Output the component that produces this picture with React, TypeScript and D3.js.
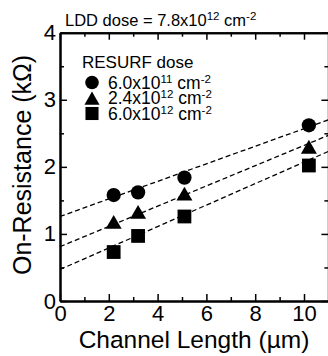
import React, { useEffect, useRef } from 'react';
import * as d3 from 'd3';

// channel length (um) and on-resistance (kOhm) per RESURF dose
const channelLength = [2.2, 3.2, 5.1, 10.2];
const ronLowDose = [1.58, 1.62, 1.84, 2.62];
const ronMidDose = [1.18, 1.33, 1.6, 2.3];
const ronHighDose = [0.73, 0.97, 1.26, 2.02];

// dashed fit lines: value at L = 0 and at L = 11
const fitAtZero = [1.26, 0.81, 0.47];
const fitAtEleven = [2.7, 2.47, 2.23];

const doseMantissa = ['6.0x10', '2.4x10', '6.0x10'];
const doseExponent = ['11', '12', '12'];

const xMajorTicks = [0, 2, 4, 6, 8, 10];
const xMinorTicks = [1, 3, 5, 7, 9, 11];
const yMajorTicks = [0, 1, 2, 3, 4];
const yMinorTicks = [0.5, 1.5, 2.5, 3.5];

const FONT = 'Liberation Sans, Arial, Helvetica, sans-serif';

function App() {
    const svgRef = useRef(null);

    useEffect(() => {
        document.body.style.margin = '0';
        const width = 328;
        const height = 356;

        const svg = d3.select(svgRef.current)
            .attr('width', width)
            .attr('height', height)
            .style('font-family', FONT);
        svg.selectAll('*').remove();

        const x = d3.scaleLinear().domain([0, 11]).range([60, 328.4]);
        const y = d3.scaleLinear().domain([0, 4]).range([301, 32.7]);
        const fmt = d3.format('d');

        // axes: major ticks inward 7px, minor 4px
        const styleAxis = (g, showText) => {
            g.select('.domain').attr('stroke', '#000').attr('stroke-width', 2);
            g.selectAll('.tick line').attr('stroke', '#000').attr('stroke-width', 1.5);
            g.selectAll('.tick text')
                .attr('fill', '#000')
                .style('font-family', FONT)
                .style('font-size', '22px')
                .style('display', showText ? null : 'none');
        };

        svg.append('g')
            .attr('transform', `translate(0,${y(0)})`)
            .call(d3.axisBottom(x).tickValues(xMinorTicks).tickSize(-4).tickSizeOuter(0).tickFormat(() => ''))
            .call(g => styleAxis(g, false));
        svg.append('g')
            .attr('transform', `translate(0,${y(0)})`)
            .call(d3.axisBottom(x).tickValues(xMajorTicks).tickSize(-7).tickSizeOuter(0).tickPadding(4).tickFormat(fmt))
            .call(g => styleAxis(g, true));

        svg.append('g')
            .attr('transform', `translate(0,${y(4)})`)
            .call(d3.axisTop(x).tickValues(xMinorTicks).tickSize(-4).tickSizeOuter(0).tickFormat(() => ''))
            .call(g => styleAxis(g, false));
        svg.append('g')
            .attr('transform', `translate(0,${y(4)})`)
            .call(d3.axisTop(x).tickValues(xMajorTicks).tickSize(-7).tickSizeOuter(0).tickFormat(() => ''))
            .call(g => styleAxis(g, false));

        svg.append('g')
            .attr('transform', `translate(${x(0)},0)`)
            .call(d3.axisLeft(y).tickValues(yMinorTicks).tickSize(-4).tickSizeOuter(0).tickFormat(() => ''))
            .call(g => styleAxis(g, false));
        svg.append('g')
            .attr('transform', `translate(${x(0)},0)`)
            .call(d3.axisLeft(y).tickValues(yMajorTicks).tickSize(-7).tickSizeOuter(0).tickPadding(4).tickFormat(fmt))
            .call(g => styleAxis(g, true));

        svg.append('g')
            .attr('transform', `translate(${x(11)},0)`)
            .call(d3.axisRight(y).tickValues(yMinorTicks).tickSize(-4).tickSizeOuter(0).tickFormat(() => ''))
            .call(g => styleAxis(g, false));
        svg.append('g')
            .attr('transform', `translate(${x(11)},0)`)
            .call(d3.axisRight(y).tickValues(yMajorTicks).tickSize(-7).tickSizeOuter(0).tickFormat(() => ''))
            .call(g => styleAxis(g, false));

        // dashed fit lines
        const line = d3.line().x(d => x(d[0])).y(d => y(d[1]));
        fitAtZero.forEach((v, i) => {
            svg.append('path')
                .attr('d', line([[0, v], [11, fitAtEleven[i]]]))
                .attr('fill', 'none')
                .attr('stroke', '#000')
                .attr('stroke-width', 1.3)
                .attr('stroke-dasharray', '5,3');
        });

        // markers
        const series = [
            { values: ronLowDose, type: d3.symbolCircle, size: 160, dy: 0 },
            { values: ronMidDose, type: d3.symbolTriangle, size: 110, dy: 2.3 },
            { values: ronHighDose, type: d3.symbolSquare, size: 190, dy: 0 },
        ];
        series.forEach(s => {
            svg.append('g')
                .selectAll('path')
                .data(s.values)
                .enter()
                .append('path')
                .attr('d', d3.symbol().type(s.type).size(s.size)())
                .attr('transform', (d, i) => `translate(${x(channelLength[i])},${y(d) + s.dy})`)
                .attr('fill', '#000');
        });

        // legend
        svg.append('text')
            .attr('x', 82)
            .attr('y', 68)
            .style('font-size', '17px')
            .text('RESURF dose');
        series.forEach((s, i) => {
            const cy = 82.5 + i * 15.5;
            svg.append('path')
                .attr('d', d3.symbol().type(s.type).size(s.size * 0.9)())
                .attr('transform', `translate(92,${cy + s.dy})`)
                .attr('fill', '#000');
            const t = svg.append('text')
                .attr('x', 108)
                .attr('y', cy + 6)
                .style('font-size', '17.5px');
            t.append('tspan').text(doseMantissa[i]);
            t.append('tspan').attr('dy', -6).style('font-size', '11.5px').text(doseExponent[i]);
            t.append('tspan').attr('dy', 6).text(' cm');
            t.append('tspan').attr('dy', -6).style('font-size', '11.5px').text('-2');
        });

        // header
        const title = svg.append('text')
            .attr('x', 65)
            .attr('y', 26)
            .style('font-size', '16.5px');
        title.append('tspan').text('LDD dose = 7.8x10');
        title.append('tspan').attr('dy', -6).style('font-size', '11.5px').text('12');
        title.append('tspan').attr('dy', 6).text(' cm');
        title.append('tspan').attr('dy', -6).style('font-size', '11.5px').text('-2');

        // axis titles
        svg.append('text')
            .attr('x', 194)
            .attr('y', 348)
            .attr('text-anchor', 'middle')
            .style('font-size', '24.5px')
            .text('Channel Length (\u00b5m)');
        svg.append('text')
            .attr('transform', 'translate(31,165) rotate(-90)')
            .attr('text-anchor', 'middle')
            .style('font-size', '25px')
            .text('On-Resistance (k\u03a9)');
    }, []);

    return <svg ref={svgRef}></svg>;
}

export default App;
